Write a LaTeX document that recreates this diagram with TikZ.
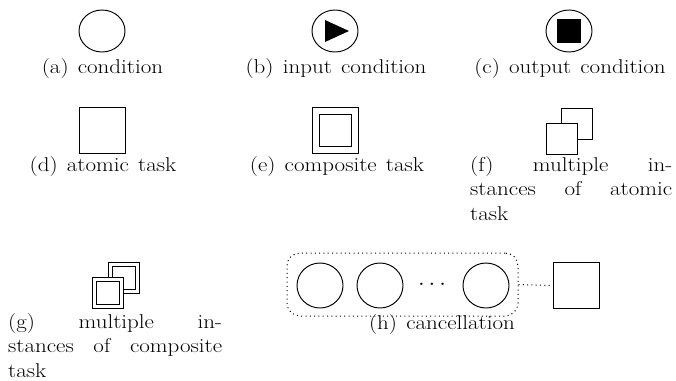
\documentclass[tikz,border=0pt]{standalone}
\usetikzlibrary{shapes.geometric}
% captions are set slightly widened
\newcommand\wide[1]{\scalebox{1.15}[1]{#1}}
\newcommand\capfont{\fontsize{20}{24.5}\selectfont\spaceskip=8pt plus 6pt minus 2pt\relax}
\tikzset{
  shp/.style={draw, line width=0.95pt},
  cond/.style={shp, ellipse, minimum width=46pt, minimum height=42pt, inner sep=0pt},
  tbox/.style={shp, minimum width=#1, minimum height=#1, inner sep=0pt},
  fillbox/.style={fill=black, minimum width=24pt, minimum height=24pt, inner sep=0pt},
  lbl/.style={anchor=base, inner sep=0pt, font=\capfont},
  para/.style={anchor=base west, inner sep=0pt, font=\capfont},
  dotline/.style={line width=1pt, dash pattern=on 1pt off 3.3pt},
}
\begin{document}
\begin{tikzpicture}[x=1pt, y=-1pt]
\useasboundingbox (0,0) rectangle (676,380);

% (a) condition
\node[cond] (ca) at (102,31) {};
\node[lbl] (la) at (102.5,73) {\wide{(a) condition}};

% (b) input condition
\node[cond] (cb) at (335,31) {};
\fill (325,20) -- (349,31) -- (325,42) -- cycle;
\node[lbl] (lb) at (336,73) {\wide{(b) input condition}};

% (c) output condition
\node[cond] (cc) at (569,31) {};
\node[fillbox] (sq) at (569,31) {};
\node[lbl] (lc) at (570,73) {\wide{(c) output condition}};

% (d) atomic task
\node[tbox=46pt] (td) at (102,130.5) {};
\node[lbl] (ld) at (103,171) {\wide{(d) atomic task}};

% (e) composite task
\node[tbox=46pt] (te) at (335.5,130.5) {};
\node[tbox=32pt] (tei) at (335.5,130.5) {};
\node[lbl] (le) at (337,171) {\wide{(e) composite task}};

% (f) multiple instances of atomic task
\node[tbox=31pt, fill=white] (tfb) at (576.5,123.5) {};
\node[tbox=31pt, fill=white] (tff) at (561.5,138.5) {};
\node[para] (lf) at (470,171) {\wide{\begin{minipage}[t]{175.7pt}\parindent=0pt
  (f) multiple in-\linebreak stances of atomic\linebreak task\end{minipage}}};

% (g) multiple instances of composite task
\node[tbox=31pt, fill=white] (tgb) at (123.5,277.5) {};
\node[tbox=23pt] (tgbi) at (123.5,277.5) {};
\node[tbox=31pt, fill=white] (tgf) at (107.5,292.5) {};
\node[tbox=23pt] (tgfi) at (107.5,292.5) {};
\node[para] (lg) at (8,328) {\wide{\begin{minipage}[t]{186pt}\parindent=0pt
  (g) multiple in-\linebreak stances of composite\linebreak task\end{minipage}}};

% (h) cancellation region
\node[draw, dotline, rounded corners=13pt, minimum width=231pt, minimum height=63pt] (region) at (402.5,284.5) {};
\node[cond, minimum height=45pt] (h1) at (320,285.5) {};
\node[cond, minimum height=45pt] (h2) at (380,285.5) {};
\node[inner sep=0pt, font=\fontsize{20}{24.5}\selectfont] (hd) at (432,285) {\wide{$\cdots$}};
\node[cond, minimum height=45pt] (h3) at (486,285.5) {};
\node[tbox=46pt] (ht) at (576,285.5) {};
\draw[dotline] (region.east) -- (ht.west);
\node[lbl] (lh) at (442,329) {\wide{(h) cancellation}};
\end{tikzpicture}
\end{document}
